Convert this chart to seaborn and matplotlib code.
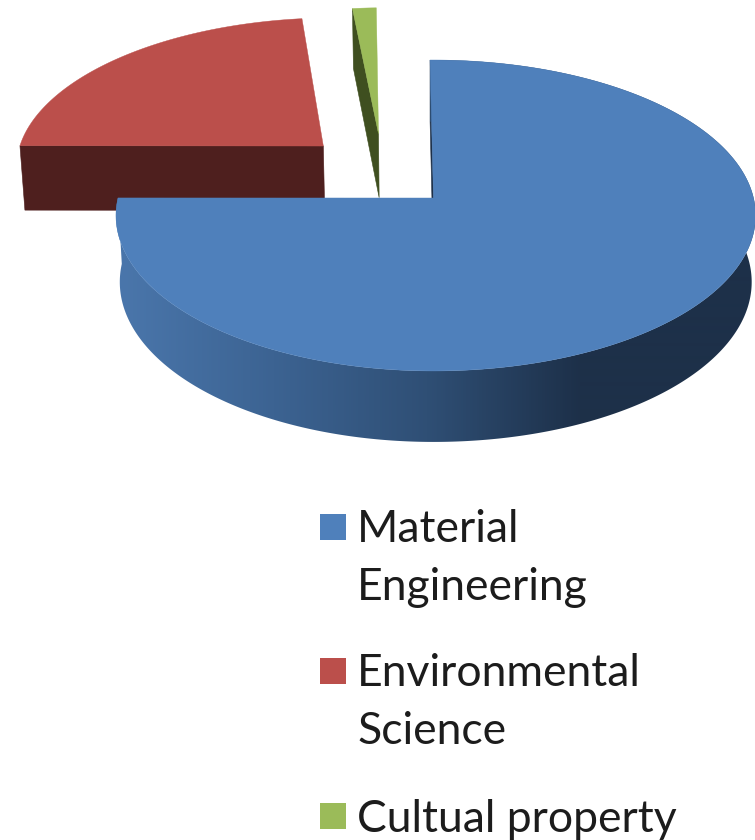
import numpy as np
import matplotlib
matplotlib.use("Agg")
import matplotlib.pyplot as plt
from matplotlib.patches import Polygon, Rectangle
import seaborn as sns

# Chart content
categories = ["Material\nEngineering", "Environmental\nScience", "Cultual property"]
shares = [75.2, 23.1, 1.4]
top_colors = ["#4f80bb", "#bb4f4b", "#9bbb59"]
side_colors = ["#1d3049", "#4e1f1e", "#3f4f20"]

# Pull-out offset and small rotation per slice, in the pie's own plane
offsets = [(0.0, 0.0), (-0.363, 0.352), (-0.183, 0.44)]
spins = [-0.7, -0.6, -0.5]

# Perspective model of the pie
CX, CY = 433.5, 198.0
RX_LEFT, RX_RIGHT = 315.5, 320.0
RY = 153.5
TILT = 0.1125
DEPTH = 66.0
DEPTH_TILT = 0.07
BASE_SHRINK = 0.012


def project(x, y, z=0.0):
    """Map pie-plane coordinates to canvas pixels; z=1 is the bottom face."""
    w = 1.0 + TILT * y
    rx = RX_RIGHT if x > 0 else RX_LEFT
    px = CX + rx * x / w * (1.0 - BASE_SHRINK * z)
    py = CY - RY * y / w + DEPTH * z / (1.0 + DEPTH_TILT * y)
    return px, py


def slice_geometry(start_deg, end_deg, offset):
    t = np.radians(np.linspace(start_deg, end_deg, max(int(end_deg - start_deg) * 3, 6)))
    return offset[0] + np.sin(t), offset[1] + np.cos(t)


sns.set_theme(style="white")
plt.rcParams["font.family"] = ["Lato", "DejaVu Sans"]

fig, ax = plt.subplots(figsize=(7.55, 8.40), dpi=100)
ax.set_position([0, 0, 1, 1])

angles = np.cumsum([0.0] + [s / 100.0 * 360.0 for s in shares])
rim_cmap = sns.blend_palette(["#4a76ab", "#3c6392", "#2f4f75", "#1d3049"], as_cmap=True)

# Slices farthest from the viewer go first so the large one overlaps them
for i in [1, 2, 0]:
    a0, a1 = angles[i] + spins[i], angles[i + 1] + spins[i]
    off = offsets[i]
    xs, ys = slice_geometry(a0, a1, off)

    # Radial wall on the slice's leading edge
    ex, ey = xs[0], ys[0]
    wall = [project(off[0], off[1]), project(ex, ey), project(ex, ey, 1.0), project(off[0], off[1], 1.0)]
    ax.fill(*zip(*wall), color=side_colors[i], lw=0.4, zorder=2)

    # Outer wall: horizontal shading clipped to the rim band
    if i == 0:
        band = [project(x, y) for x, y in zip(xs, ys)]
        band += [project(x, y, 1.0) for x, y in zip(xs[::-1], ys[::-1])]
        shade = np.clip((np.arange(755) - 120.0) / (581.0 - 120.0), 0.0, 1.0)[None, :]
        image = ax.imshow(shade, cmap=rim_cmap, vmin=0, vmax=1, extent=(0, 755, 840, 0),
                          aspect="auto", interpolation="bilinear", zorder=2)
        image.set_clip_path(Polygon(band, closed=True, transform=ax.transData))

    # Top face
    top = [project(off[0], off[1])] + [project(x, y) for x, y in zip(xs, ys)]
    ax.fill(*zip(*top), color=top_colors[i], lw=0.3, zorder=3)

# Key below the pie
key_rows = [(514, 509), (658, 653), (803, 799)]
for label, color, (box_y, text_y) in zip(categories, top_colors, key_rows):
    ax.add_patch(Rectangle((320, box_y), 25.5, 26, facecolor=color, edgecolor="none", zorder=4))
    ax.text(357, text_y, label, fontsize=32, color="#1c1c1c", va="top", ha="left",
            linespacing=1.5, zorder=4)

ax.set_xlim(0, 755)
ax.set_ylim(840, 0)
ax.axis("off")

fig.savefig("out.png", dpi=100)
